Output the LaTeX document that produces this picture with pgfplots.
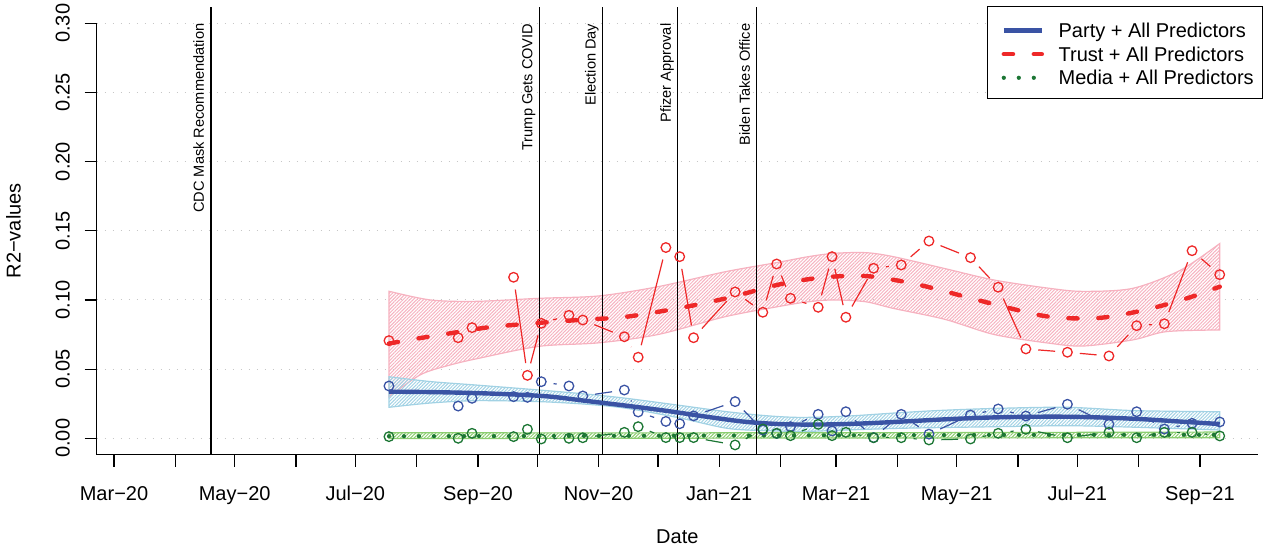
\documentclass[border=0pt]{standalone}
\usepackage{fontspec}
\setmainfont{Liberation Sans}
\usepackage{pgfplots}
\usepackage{pgfplotstable}
\pgfplotsset{compat=1.18}
\usepgfplotslibrary{fillbetween}
\usetikzlibrary{patterns.meta}

\definecolor{partyC}{RGB}{58,83,164}
\definecolor{trustC}{RGB}{238,40,40}
\definecolor{mediaC}{RGB}{28,118,52}
\definecolor{pinkB}{RGB}{246,178,192}
\definecolor{blueB}{RGB}{162,210,228}
\definecolor{greenB}{RGB}{140,206,112}

% observed weekly R2 values (day 0 = 1 Mar 2020)
\pgfplotstableread{
x y
139 0.0706
174 0.0727
181 0.0800
202 0.1164
209 0.0455
216 0.0831
230 0.0889
237 0.0855
258 0.0734
265 0.0586
279 0.1379
286 0.1313
293 0.0727
314 0.1058
328 0.0911
335 0.1260
342 0.1012
356 0.0947
363 0.1313
370 0.0875
384 0.1229
398 0.1253
412 0.1426
433 0.1306
447 0.1092
461 0.0646
482 0.0622
503 0.0595
517 0.0814
531 0.0828
545 0.1356
559 0.1183
}\trustpts

\pgfplotstableread{
x y
139 0.0378
174 0.0233
181 0.0289
202 0.0301
209 0.0296
216 0.0409
230 0.0378
237 0.0306
258 0.0349
265 0.0190
279 0.0122
286 0.0105
293 0.0162
314 0.0265
328 0.0060
335 0.0035
342 0.0084
356 0.0173
363 0.0053
370 0.0192
384 0.0005
398 0.0173
412 0.0030
433 0.0168
447 0.0212
461 0.0161
482 0.0246
503 0.0101
517 0.0192
531 0.0067
545 0.0108
559 0.0118
}\partypts

\pgfplotstableread{
x y
139 0.0012
174 0.0000
181 0.0036
202 0.0012
209 0.0065
216 -0.0005
230 0.0000
237 0.0004
258 0.0043
265 0.0084
279 0.0005
286 0.0005
293 0.0005
314 -0.0048
328 0.0067
335 0.0036
342 0.0019
356 0.0101
363 0.0019
370 0.0043
384 0.0004
398 0.0004
412 -0.0012
433 -0.0005
447 0.0036
461 0.0065
482 0.0004
503 0.0043
517 0.0004
531 0.0043
545 0.0043
559 0.0017
}\mediapts

\pgfplotstablecreatecol[create col/expr={\nextrow{x}-(\thisrow{x})}]{u}{\trustpts}
\pgfplotstablecreatecol[create col/expr={\nextrow{y}-(\thisrow{y})}]{v}{\trustpts}
\pgfplotstablecreatecol[create col/expr={\nextrow{x}-(\thisrow{x})}]{u}{\partypts}
\pgfplotstablecreatecol[create col/expr={\nextrow{y}-(\thisrow{y})}]{v}{\partypts}
\pgfplotstablecreatecol[create col/expr={\nextrow{x}-(\thisrow{x})}]{u}{\mediapts}
\pgfplotstablecreatecol[create col/expr={\nextrow{y}-(\thisrow{y})}]{v}{\mediapts}

% smoothed fits
\pgfplotstableread{
x y
139 0.0685
155 0.0725
170 0.0759
188 0.0800
204 0.0822
220 0.0840
240 0.0860
255 0.0872
270 0.0902
293 0.0961
313 0.1024
335 0.1108
352 0.1152
365 0.1170
380 0.1173
394 0.1146
411 0.1096
440 0.0987
468 0.0890
483 0.0868
498 0.0870
512 0.0900
529 0.0956
544 0.1019
559 0.1096
}\trustfit
\pgfplotstableread{
x y
139 0.1063
160 0.1000
183 0.0990
215 0.1012
245 0.1029
275 0.1096
309 0.1204
335 0.1270
351 0.1313
364 0.1337
380 0.1342
394 0.1313
420 0.1227
445 0.1144
473 0.1084
490 0.1062
515 0.1084
539 0.1214
559 0.1408
}\trustup
\pgfplotstableread{
x y
139 0.0300
155 0.0460
170 0.0530
185 0.0580
215 0.0665
245 0.0690
275 0.0750
309 0.0879
335 0.0950
351 0.0987
364 0.1000
380 0.0987
394 0.0939
420 0.0860
445 0.0750
473 0.0687
490 0.0667
515 0.0711
532 0.0771
559 0.0783
}\trustlo

\pgfplotstableread{
x y
139 0.0337
160 0.0334
180 0.0328
200 0.0318
220 0.0302
240 0.0268
260 0.0234
280 0.0197
300 0.0155
320 0.0118
340 0.0101
360 0.0100
380 0.0108
400 0.0122
420 0.0137
440 0.0149
460 0.0155
480 0.0156
500 0.0150
520 0.0138
540 0.0120
559 0.0103
}\partyfit
\pgfplotstableread{
x y
139 0.0445
160 0.0410
183 0.0385
215 0.0349
240 0.0318
259 0.0289
285 0.0240
310 0.0192
330 0.0163
347 0.0151
370 0.0160
397 0.0185
420 0.0203
448 0.0217
482 0.0224
516 0.0200
559 0.0192
}\partyup
\pgfplotstableread{
x y
139 0.0224
160 0.0255
183 0.0272
215 0.0265
240 0.0245
259 0.0217
285 0.0150
310 0.0072
330 0.0055
350 0.0050
370 0.0060
397 0.0072
420 0.0078
448 0.0084
482 0.0091
516 0.0080
559 0.0060
}\partylo

\pgfplotstableread{
x y
139 0.0015
200 0.0016
260 0.0018
320 0.0020
380 0.0022
440 0.0024
500 0.0025
559 0.0025
}\mediafit
\pgfplotstableread{
x y
139 0.0040
250 0.0039
350 0.0040
450 0.0042
559 0.0045
}\mediaup
\pgfplotstableread{
x y
139 -0.0002
250 0.0000
350 0.0002
450 0.0003
559 0.0004
}\medialo

\begin{document}
\begin{tikzpicture}
\begin{axis}[
  at={(48.35pt,47.55pt)}, anchor=south west,
  scale only axis, width=580.65pt, height=224.1pt,
  xmin=-8.75, xmax=578.35, ymin=-0.012, ymax=0.312,
  axis lines=left,
  axis line style={-, line width=0.6pt, black},
  y axis line style={shorten >=8.3pt},
  tick align=outside, major tick length=6pt,
  tick style={black, line width=0.6pt},
  xtick={0,31,61,92,122,153,184,214,245,275,306,337,365,396,426,457,487,518,549},
  xticklabels={Mar−20,,May−20,,Jul−20,,Sep−20,,Nov−20,,Jan−21,,Mar−21,,May−21,,Jul−21,,Sep−21},
  ytick={0,0.05,0.1,0.15,0.2,0.25,0.3},
  yticklabels={0.00,0.05,0.10,0.15,0.20,0.25,0.30},
  ymajorgrids,
  grid style={black!22, line width=0.5pt, dash pattern=on 0.7pt off 3.3pt},
  xticklabel style={anchor=base, yshift=-16.85pt},
  yticklabel style={xshift=-7.6pt, rotate=90, anchor=base},
  xlabel={Date},
  xlabel style={at={(axis description cs:0.5,0)}, anchor=base, yshift=-44.55pt},
  ylabel={R2−values},
  ylabel style={at={([xshift=-38pt]axis description cs:0,0.5)}, anchor=base},
  legend style={at={(1,1)}, anchor=north east, xshift=2.35pt, yshift=0.35pt,
    draw=black, line width=0.6pt, fill=white, inner xsep=4.2pt, inner ysep=5.2pt,
    row sep=0pt, cells={anchor=west},
    nodes={inner sep=0pt, text height=10.4pt, text depth=1.4pt},
    /tikz/every odd column/.append style={column sep=7.3pt}},
  legend image code/.code={\path (0pt,-0.9pt) (22pt,-0.9pt); \draw[#1] (3pt,-0.9pt) -- (22pt,-0.9pt);},
]

% confidence bands
\addplot[draw=none, name path=tU, smooth, forget plot] table {\trustup};
\addplot[draw=none, name path=tL, smooth, forget plot] table {\trustlo};
\addplot[pattern={Lines[angle=45,distance=1.2pt,line width=0.5pt]}, pattern color=pinkB, draw=pinkB, line width=0.6pt, forget plot] fill between[of=tU and tL];
\addplot[draw=none, name path=pU, smooth, forget plot] table {\partyup};
\addplot[draw=none, name path=pL, smooth, forget plot] table {\partylo};
\addplot[pattern={Lines[angle=45,distance=1.2pt,line width=0.5pt]}, pattern color=blueB, draw=blueB, line width=0.6pt, forget plot] fill between[of=pU and pL];
\addplot[draw=none, name path=mU, smooth, forget plot] table {\mediaup};
\addplot[draw=none, name path=mL, smooth, forget plot] table {\medialo};
\addplot[pattern={Lines[angle=45,distance=1.2pt,line width=0.5pt]}, pattern color=greenB, draw=greenB, line width=0.6pt, forget plot] fill between[of=mU and mL];

% event lines
\addplot[black, line width=0.6pt, forget plot] coordinates {(49,-0.012) (49,0.312)};
\addplot[black, line width=0.6pt, forget plot] coordinates {(215,-0.012) (215,0.312)};
\addplot[black, line width=0.6pt, forget plot] coordinates {(247,-0.012) (247,0.312)};
\addplot[black, line width=0.6pt, forget plot] coordinates {(285,-0.012) (285,0.312)};
\addplot[black, line width=0.6pt, forget plot] coordinates {(325,-0.012) (325,0.312)};

% smoothed fits
\addplot[partyC, line width=2.2pt, smooth] table {\partyfit};
\addlegendentry{Party + All Predictors}
\addplot[trustC, line width=2.2pt, smooth, line cap=round, dash pattern=on 4.6pt off 10.4pt] table {\trustfit};
\addlegendentry{Trust + All Predictors}
\addplot[mediaC, line width=2.1pt, smooth, line cap=round, dash pattern=on 0pt off 7.5pt] table {\mediafit};
\addlegendentry{Media + All Predictors}

% connecting segments (type b)
\addplot[trustC, line width=0.6pt, forget plot,
  quiver={u=\thisrow{u}, v=\thisrow{v},
    every arrow/.append style={-, shorten <=6.2pt, shorten >=6.2pt}},
  skip coords between index={0}{3},
  skip coords between index={6}{7},
  skip coords between index={10}{11},
  skip coords between index={31}{32}]
  table[x=x,y=y] {\trustpts};
\addplot[partyC, line width=0.6pt, forget plot,
  quiver={u=\thisrow{u}, v=\thisrow{v},
    every arrow/.append style={-, shorten <=6.2pt, shorten >=6.2pt}},
  skip coords between index={0}{5},
  skip coords between index={6}{7},
  skip coords between index={10}{12},
  skip coords between index={14}{16},
  skip coords between index={17}{19},
  skip coords between index={31}{32}]
  table[x=x,y=y] {\partypts};
\addplot[mediaC, line width=0.6pt, forget plot,
  quiver={u=\thisrow{u}, v=\thisrow{v},
    every arrow/.append style={-, shorten <=6.2pt, shorten >=6.2pt}},
  skip coords between index={0}{5},
  skip coords between index={6}{7},
  skip coords between index={8}{9},
  skip coords between index={10}{12},
  skip coords between index={14}{16},
  skip coords between index={17}{19},
  skip coords between index={31}{32}]
  table[x=x,y=y] {\mediapts};

% points
\addplot[only marks, mark=o, mark size=2.4pt, mark options={trustC, line width=0.65pt}, forget plot] table[x=x,y=y] {\trustpts};
\addplot[only marks, mark=o, mark size=2.4pt, mark options={partyC, line width=0.65pt}, forget plot] table[x=x,y=y] {\partypts};
\addplot[only marks, mark=o, mark size=2.4pt, mark options={mediaC, line width=0.65pt}, forget plot] table[x=x,y=y] {\mediapts};

% event labels
\begin{scope}[every node/.style={inner sep=0pt, font=\fontsize{7.3}{8.8}\selectfont}]
\node[xshift=-3.5pt, rotate=90, anchor=base east] at (axis cs:49,0.30) {CDC Mask Recommendation};
\node[xshift=-3.5pt, rotate=90, anchor=base east] at (axis cs:215,0.30) {Trump Gets COVID};
\node[xshift=-3.5pt, rotate=90, anchor=base east] at (axis cs:247,0.30) {Election Day};
\node[xshift=-3.5pt, rotate=90, anchor=base east] at (axis cs:285,0.30) {Pfizer Approval};
\node[xshift=-3.5pt, rotate=90, anchor=base east] at (axis cs:325,0.30) {Biden Takes Office};
\end{scope}
\end{axis}
\pgfresetboundingbox
\path[use as bounding box] (0pt,0pt) rectangle (634.5pt,275pt);
\end{tikzpicture}
\end{document}
